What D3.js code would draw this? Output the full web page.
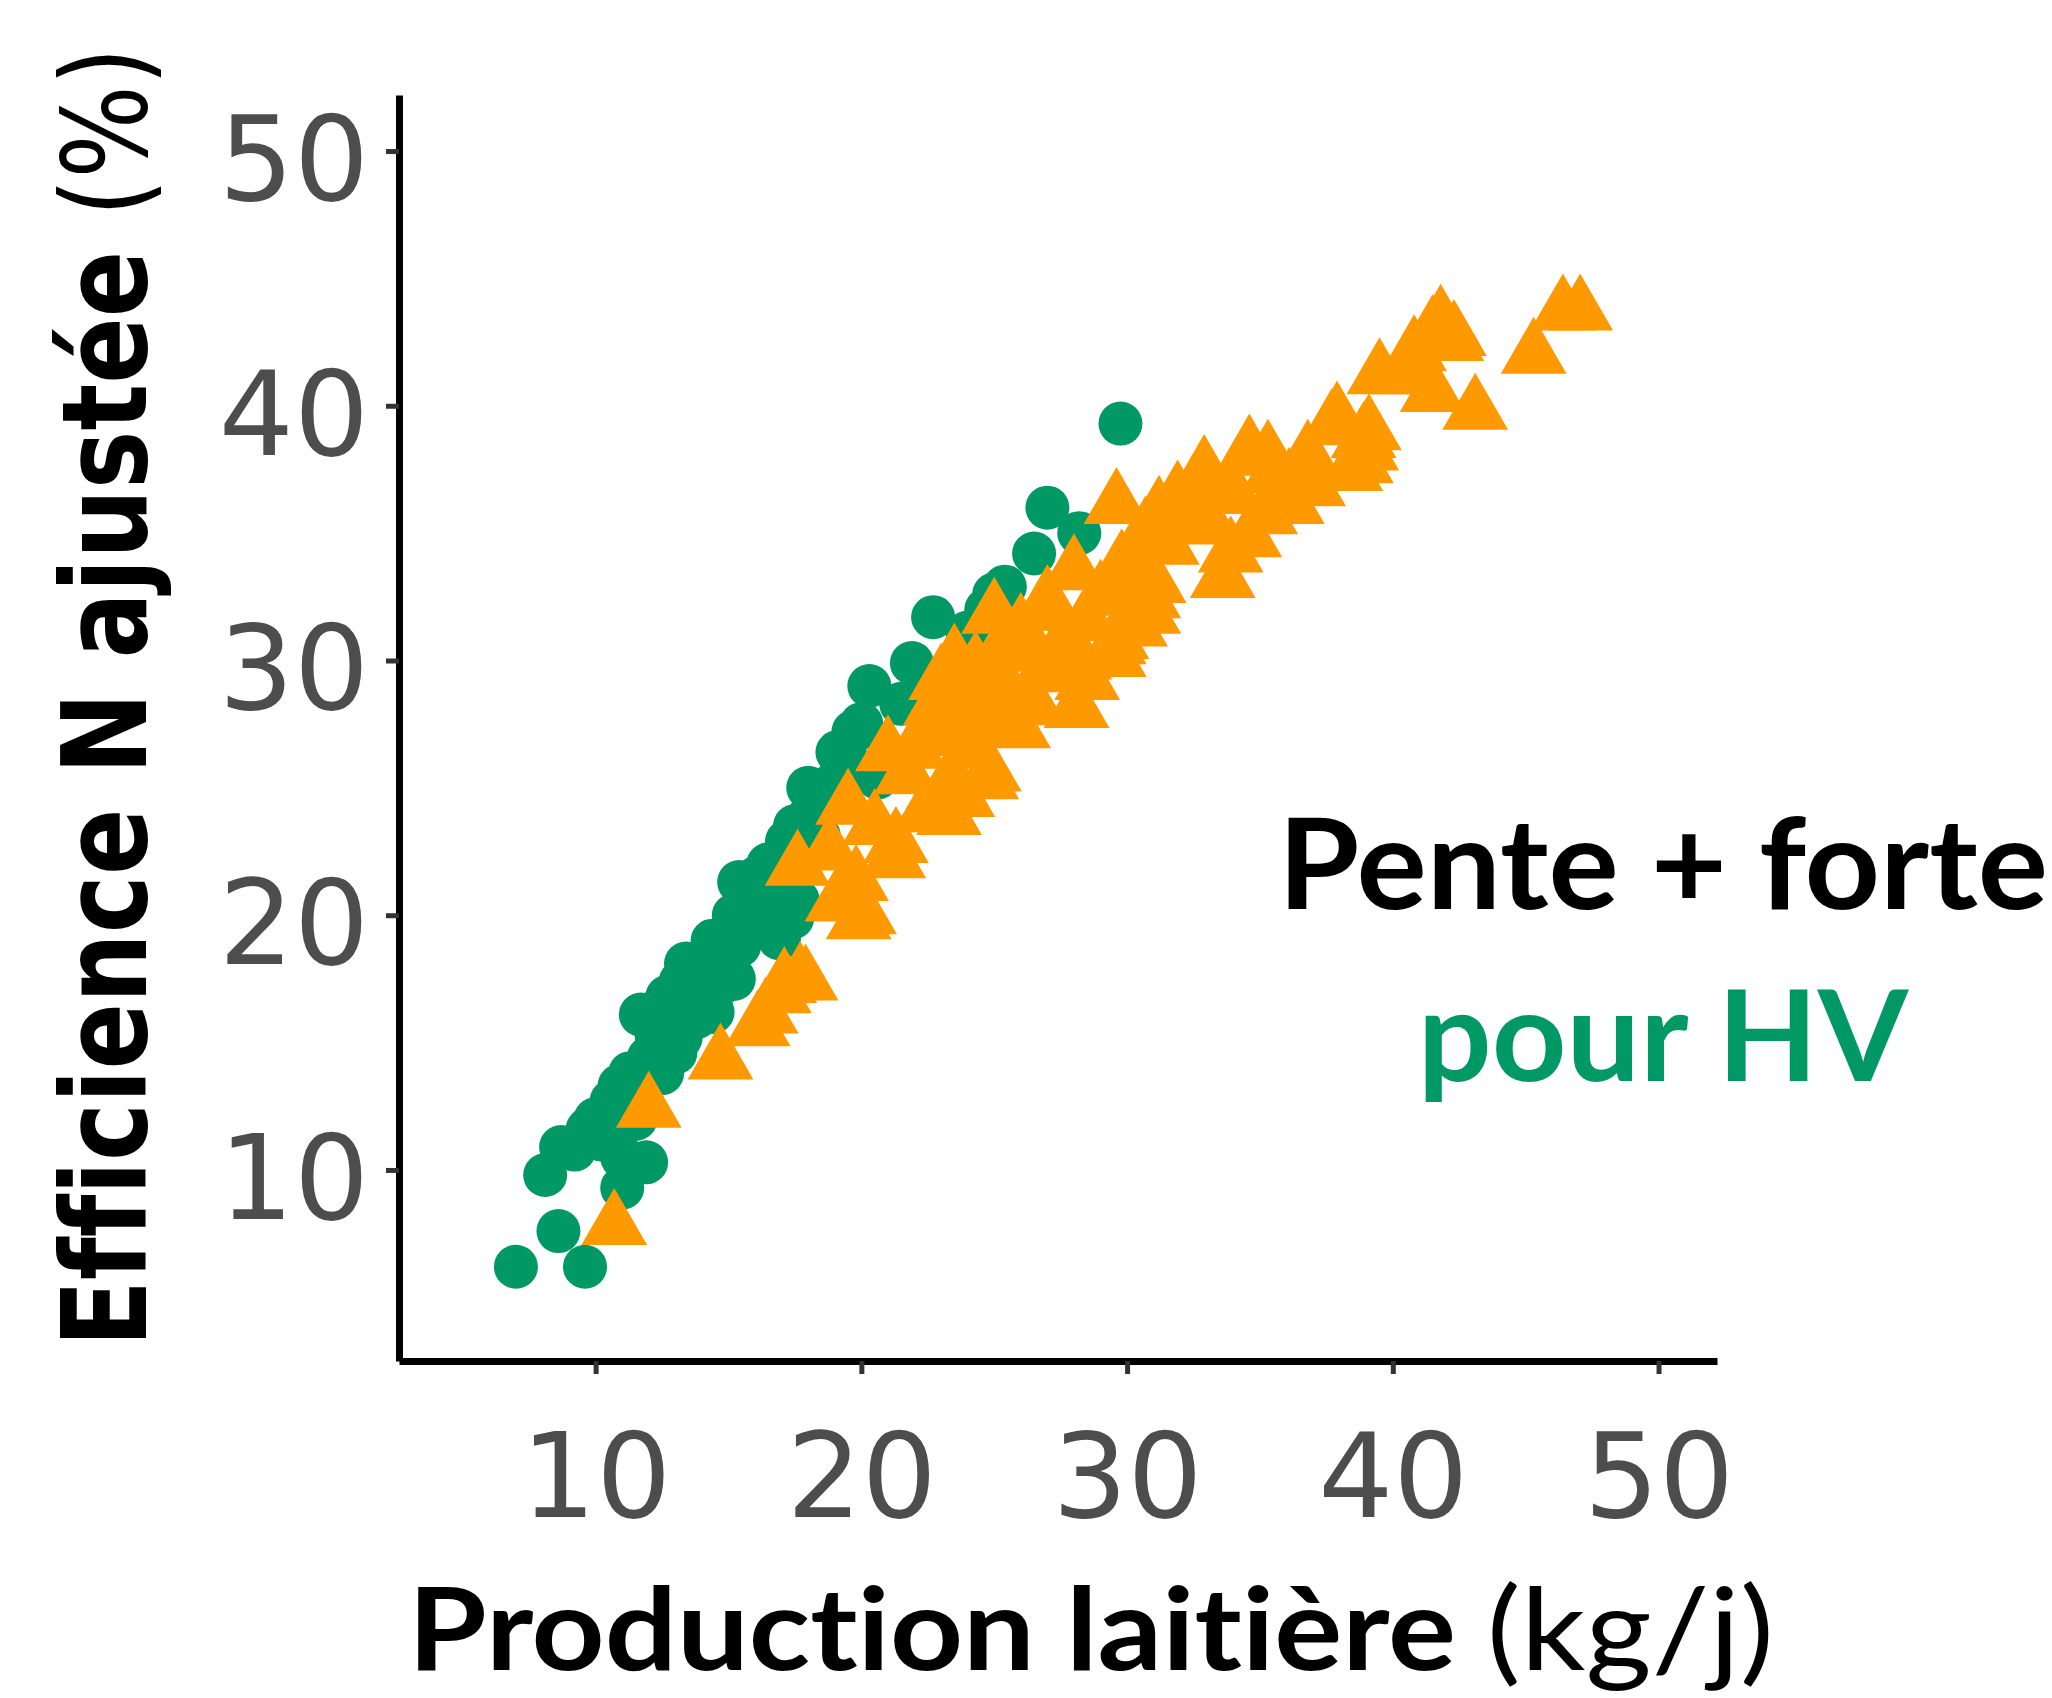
<!DOCTYPE html>
<html>
<head>
<meta charset="utf-8">
<script src="https://cdn.jsdelivr.net/npm/d3@7"></script>
<style>
    html, body { margin: 0; padding: 0; background: #fff; }
    svg { display: block; }
    text { font-variant-ligatures: none; font-feature-settings: "liga" 0, "clig" 0; }
</style>
</head>
<body>
<script>
// HV herds (green circles): [production kg/j, efficience %]
const hvPoints = [
    [7.0, 6.2], [8.6, 7.6], [9.6, 6.2], [8.1, 9.8], [8.7, 10.9], [9.2, 10.8],
    [9.7, 11.6], [10.2, 11.2], [10.0, 12.0], [11.0, 10.5], [11.9, 10.3], [11.0, 9.3],
    [11.5, 12.0], [10.6, 12.7], [10.9, 13.3], [11.3, 13.8], [11.7, 16.1], [11.9, 16.0],
    [12.5, 13.8], [12.0, 14.4], [12.3, 15.2], [13.0, 14.6], [12.7, 16.8], [12.5, 16.4],
    [13.2, 15.2], [13.8, 16.0], [13.2, 17.4], [13.4, 18.1], [13.7, 17.1], [14.0, 17.8],
    [14.4, 16.2], [14.7, 17.3], [15.2, 17.5], [14.4, 19.0], [14.9, 18.5], [15.4, 18.8],
    [15.2, 20.0], [15.4, 21.3], [15.7, 20.9], [15.8, 19.5], [16.1, 21.5], [16.3, 20.2],
    [16.5, 22.0], [16.9, 20.1], [17.0, 21.0], [16.9, 19.1], [17.6, 20.6], [17.4, 19.9],
    [17.2, 22.9], [17.8, 22.5], [17.5, 23.5], [18.1, 24.0], [18.4, 23.1], [18.0, 25.0],
    [18.6, 24.9], [18.4, 24.8], [19.0, 25.2], [19.1, 26.4], [19.5, 26.0], [19.7, 27.2],
    [20.0, 27.5], [20.6, 25.4], [20.3, 29.0], [21.5, 28.3], [21.9, 29.9], [22.5, 28.8],
    [22.7, 31.7], [24.0, 31.1], [24.7, 32.0], [25.0, 32.6], [25.4, 32.9], [26.5, 34.2],
    [27.0, 36.0], [28.2, 35.0], [29.75, 39.3]
]

// other herds (orange triangles)
const otherPoints = [
    [10.7, 7.8], [12.0, 12.4], [14.7, 14.3], [16.1, 15.6], [16.4, 16.1], [16.9, 16.9],
    [17.1, 17.3], [17.9, 17.4], [17.7, 17.5], [19.9, 19.8], [19.8, 21.3], [17.6, 21.9],
    [18.8, 22.5], [19.5, 24.3], [19.1, 20.5], [20.1, 20.0], [21.2, 22.2], [21.3, 22.8],
    [20.5, 23.5], [21.0, 26.4], [21.7, 25.5], [22.0, 26.5], [22.4, 24.0], [22.5, 27.0],
    [22.8, 28.2], [23.3, 23.9], [23.2, 25.0], [23.5, 27.0], [24.2, 26.5], [24.0, 28.0],
    [24.7, 25.3], [23.8, 24.6], [24.8, 25.6], [25.0, 27.5], [23.0, 29.2], [23.5, 30.0],
    [24.3, 29.7], [24.5, 29.0], [25.0, 31.8], [25.3, 30.5], [26.0, 31.2], [25.9, 27.3],
    [25.5, 28.8], [26.5, 28.2], [26.0, 30.3], [26.8, 29.5], [27.0, 32.3], [27.0, 31.9],
    [27.5, 30.5], [28.1, 28.1], [28.2, 30.0], [28.1, 29.7], [28.5, 29.2], [28.5, 31.5],
    [28.0, 33.5], [29.0, 32.5], [29.5, 30.1], [29.6, 30.8], [29.5, 30.6], [30.0, 33.0],
    [30.3, 31.3], [30.8, 31.8], [30.8, 32.4], [31.0, 33.0], [29.6, 36.1], [29.8, 33.7],
    [30.5, 33.8], [30.7, 35.0], [31.2, 35.8], [31.5, 34.5], [31.9, 36.4], [32.3, 35.3],
    [32.9, 37.0], [32.9, 37.4], [33.0, 35.5], [33.6, 33.2], [33.9, 34.2], [34.0, 36.5],
    [34.6, 34.8], [35.2, 35.7], [35.5, 37.3], [36.2, 36.1], [36.8, 38.0], [37.0, 36.8],
    [34.6, 38.2], [35.3, 38.0], [36.1, 36.9], [37.7, 39.2], [37.9, 39.5], [38.4, 37.4],
    [38.9, 38.7], [39.0, 38.2], [39.1, 39.0], [38.8, 37.7], [39.5, 41.2], [40.4, 41.2],
    [41.5, 40.5], [40.8, 42.1], [41.5, 42.9], [41.8, 43.3], [42.3, 42.7], [42.2, 42.5],
    [43.1, 39.8], [45.3, 42.0], [46.4, 43.7], [47.05, 43.7]
]

const xTicks = [10, 20, 30, 40, 50]
const yTicks = [10, 20, 30, 40, 50]
const xLimits = [2.6, 52.2]
const yLimits = [2.5, 52.2]

const GREEN = '#009966'
const ORANGE = '#ff9900'
const W = 2052
const H = 1698

const svg = d3.select('body').append('svg')
    .attr('width', W)
    .attr('height', H)
    .attr('viewBox', `0 0 ${W} ${H}`)

svg.append('rect').attr('width', W).attr('height', H).attr('fill', '#fff')

const x = d3.scaleLinear().domain(xLimits).range([399, 1717])
const y = d3.scaleLinear().domain(yLimits).range([1361, 95])

// points: green first, orange drawn over
svg.append('g')
    .selectAll('circle')
    .data(hvPoints)
    .join('circle')
    .attr('cx', d => x(d[0]))
    .attr('cy', d => y(d[1]))
    .attr('r', 22)
    .attr('fill', GREEN)

const tri = d3.symbol().type(d3.symbolTriangle).size(1876)
svg.append('g')
    .selectAll('path')
    .data(otherPoints)
    .join('path')
    .attr('transform', d => `translate(${x(d[0])},${y(d[1])})`)
    .attr('d', tri)
    .attr('fill', ORANGE)

// axes
function styleAxis(g) {
    g.select('.domain').attr('stroke', '#000').attr('stroke-width', 7)
    g.selectAll('.tick line').attr('stroke', '#333').attr('stroke-width', 5)
    g.selectAll('.tick text')
        .attr('fill', '#4d4d4d')
        .attr('font-family', 'DejaVu Sans')
        .attr('font-size', 118)
}

svg.append('g')
    .attr('transform', `translate(0,${y.range()[0]})`)
    .call(d3.axisBottom(x).tickValues(xTicks).tickSize(13).tickSizeOuter(0).tickPadding(59))
    .call(styleAxis)

svg.append('g')
    .attr('transform', `translate(${x.range()[0]},0)`)
    .call(d3.axisLeft(y).tickValues(yTicks).tickSize(13).tickSizeOuter(0).tickPadding(17))
    .call(styleAxis)
    .call(g => g.selectAll('.tick text').attr('dy', '0.41em'))

// stretch/squeeze a text so its width matches the reference
function fitText(t, target, base) {
    const w = t.node().getBBox().width
    t.attr('transform', `${base} scale(${target / w},1)`)
}

// y title (zero-width non-joiners keep the f's apart)
const yTitle = svg.append('text')
    .attr('text-anchor', 'middle')
    .attr('font-family', 'DejaVu Sans')
    .attr('font-size', 118)
    .attr('fill', '#000')
yTitle.append('tspan').attr('font-weight', 'bold').text('Ef\u200Cf\u200Cicience N ajustée ')
yTitle.append('tspan').text('(%)')
fitText(yTitle, 1300, 'translate(146,697) rotate(-90)')

// x title
const xTitle = svg.append('text')
    .attr('text-anchor', 'middle')
    .attr('font-family', 'Lato')
    .attr('font-size', 114)
    .attr('fill', '#000')
xTitle.append('tspan').attr('font-weight', 'bold').text('Production laitière ')
xTitle.append('tspan').text('(kg/j)')
fitText(xTitle, 1366, 'translate(1091,1670)')

// annotation
const note1 = svg.append('text')
    .attr('text-anchor', 'middle')
    .attr('font-family', 'Lato')
    .attr('font-weight', 'bold')
    .attr('font-size', 127)
    .attr('fill', '#000')
    .text('Pente + forte')
fitText(note1, 770, 'translate(1663,909)')

const note2 = svg.append('text')
    .attr('text-anchor', 'middle')
    .attr('font-family', 'Lato')
    .attr('font-weight', 'bold')
    .attr('font-size', 126)
    .attr('fill', GREEN)
    .text('pour HV')
fitText(note2, 492, 'translate(1663,1081)')
</script>
</body>
</html>
